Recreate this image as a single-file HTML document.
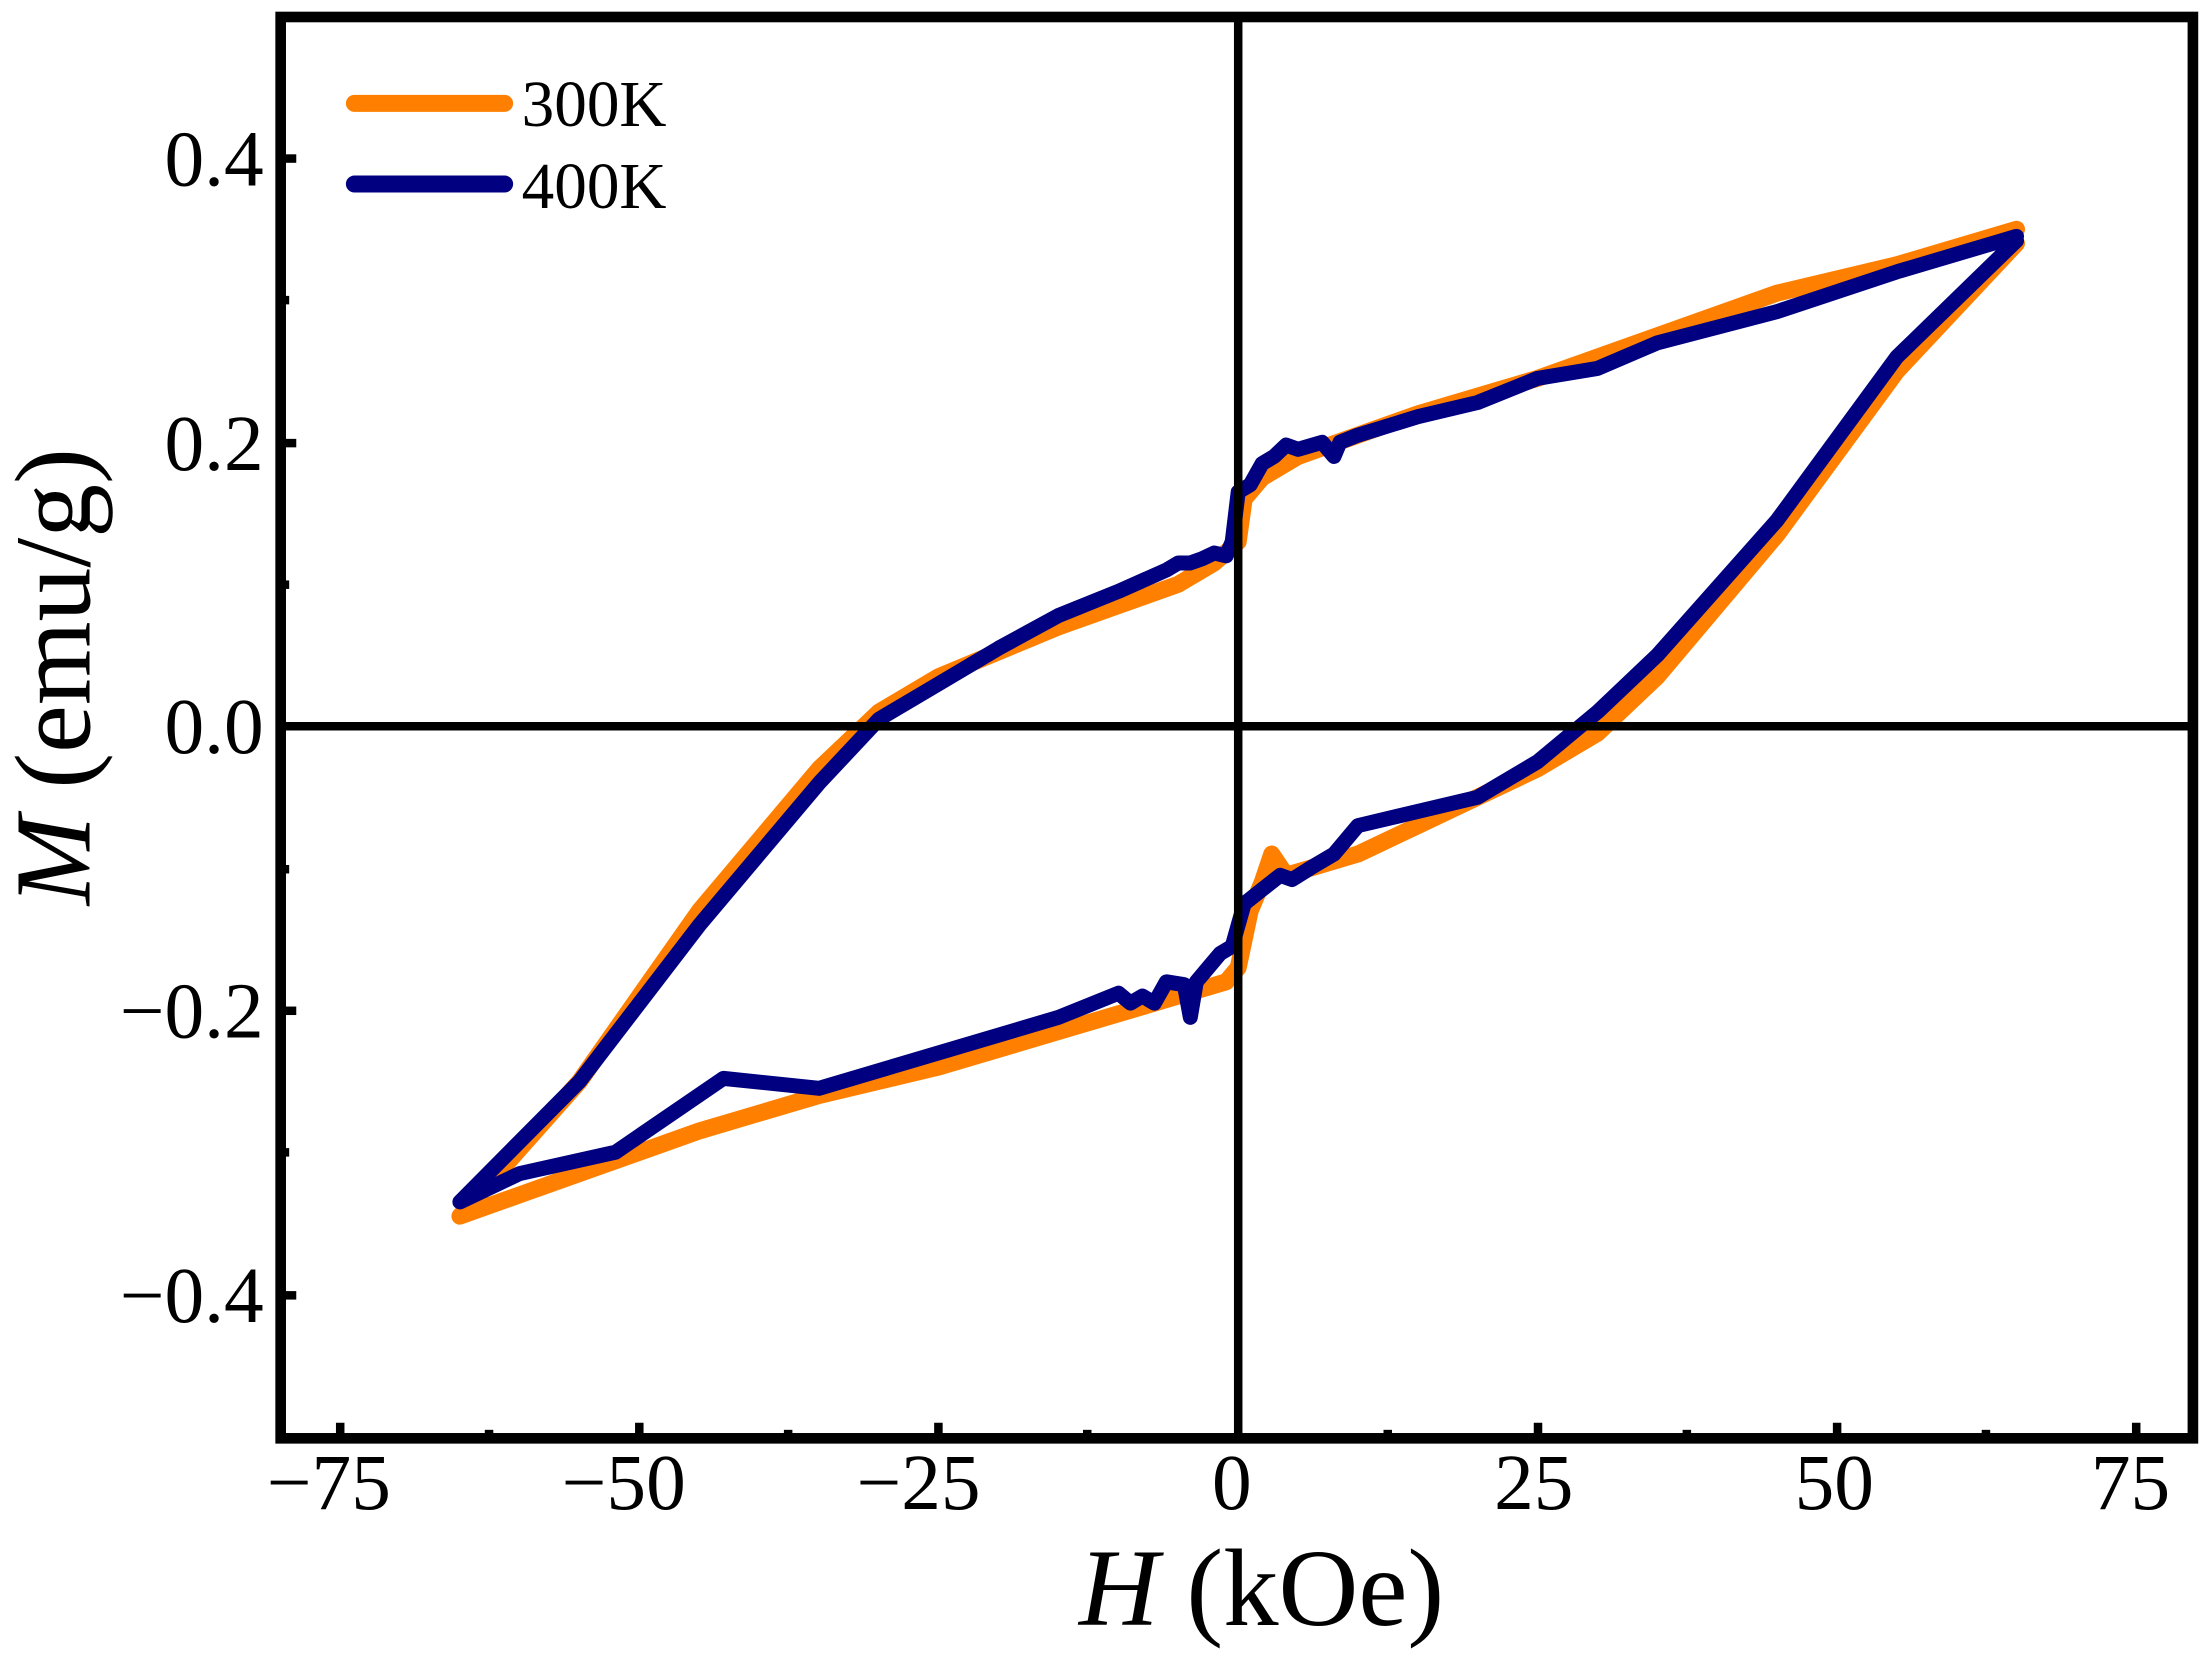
<!DOCTYPE html>
<html><head><meta charset="utf-8"><style>html,body{margin:0;padding:0;background:#fff}svg{display:block}</style></head>
<body>
<svg width="2200" height="1662" viewBox="0 0 1552 1174" preserveAspectRatio="none" xmlns="http://www.w3.org/2000/svg" font-family="Liberation Serif, serif">
<rect width="1552" height="1174" fill="#fff"/>
<g transform="translate(873.5,513) scale(8.447,-1003)" fill="none" stroke-linejoin="round" stroke-linecap="round">
<polyline vector-effect="non-scaling-stroke" stroke="#ff8000" stroke-width="17" points="65,0.35 55,0.325 45,0.305 35,0.275 25,0.245 15,0.22 10,0.205 5,0.19 2,0.175 0.5,0.16 0,0.13 -2,0.115 -5,0.1 -15,0.07 -25,0.035 -30,0.01 -35,-0.03 -45,-0.13 -55,-0.25 -65,-0.345 -55,-0.315 -45,-0.285 -35,-0.26 -25,-0.24 -15,-0.215 -5,-0.19 -1,-0.18 0,-0.17 1,-0.13 2,-0.11 2.8,-0.09 4,-0.105 6,-0.1 8,-0.095 10,-0.09 15,-0.07 20,-0.05 25,-0.03 30,-0.005 35,0.035 45,0.135 55,0.25 65,0.34"/>
<polyline vector-effect="non-scaling-stroke" stroke="#000080" stroke-width="15" points="65,0.345 55,0.32 45,0.292 35,0.27 30,0.252 25,0.245 20,0.228 15,0.218 10,0.205 8.5,0.2 8,0.19 7,0.2 5,0.195 4,0.198 3,0.19 2,0.185 1,0.17 0,0.165 -0.5,0.13 -1,0.12 -2,0.122 -3,0.118 -4,0.115 -5,0.115 -6,0.11 -10,0.095 -15,0.078 -20,0.055 -25,0.03 -30,0.005 -35,-0.04 -45,-0.14 -55,-0.25 -65,-0.335 -60,-0.315 -52,-0.3 -43,-0.248 -35,-0.255 -25,-0.23 -15,-0.205 -10,-0.188 -9,-0.195 -8,-0.19 -7,-0.195 -6,-0.18 -4.5,-0.182 -4,-0.205 -3.5,-0.18 -2.5,-0.17 -1.5,-0.16 -0.5,-0.155 0,-0.14 0.5,-0.125 2,-0.115 3.5,-0.105 4.5,-0.108 6,-0.1 8,-0.09 10,-0.07 15,-0.06 20,-0.05 25,-0.025 30,0.01 35,0.05 45,0.145 55,0.26 65,0.342"/>
</g>
<g stroke="#000" stroke-width="6">
<line x1="873.5" y1="12" x2="873.5" y2="1016"/>
<line x1="198" y1="513" x2="1547" y2="513"/>
</g>
<rect x="198" y="12" width="1349" height="1004" fill="none" stroke="#000" stroke-width="7.5"/>
<g stroke="#000" stroke-width="6">
<line x1="240" y1="1016" x2="240" y2="1005"/><line x1="451" y1="1016" x2="451" y2="1005"/><line x1="662" y1="1016" x2="662" y2="1005"/><line x1="1085" y1="1016" x2="1085" y2="1005"/><line x1="1296" y1="1016" x2="1296" y2="1005"/><line x1="1507" y1="1016" x2="1507" y2="1005"/>
<line x1="345" y1="1016" x2="345" y2="1010"/><line x1="556" y1="1016" x2="556" y2="1010"/><line x1="767" y1="1016" x2="767" y2="1010"/><line x1="979" y1="1016" x2="979" y2="1010"/><line x1="1190" y1="1016" x2="1190" y2="1010"/><line x1="1401" y1="1016" x2="1401" y2="1010"/>
<line x1="198" y1="112" x2="209" y2="112"/><line x1="198" y1="313" x2="209" y2="313"/><line x1="198" y1="714" x2="209" y2="714"/><line x1="198" y1="915" x2="209" y2="915"/>
<line x1="198" y1="212" x2="204" y2="212"/><line x1="198" y1="413" x2="204" y2="413"/><line x1="198" y1="614" x2="204" y2="614"/><line x1="198" y1="814" x2="204" y2="814"/>
</g>
<g font-size="56" fill="#000" text-anchor="middle">
<text x="232" y="1066">−75</text><text x="440" y="1066">−50</text><text x="648" y="1066">−25</text><text x="869" y="1066">0</text><text x="1082" y="1066">25</text><text x="1294" y="1066">50</text><text x="1503" y="1066">75</text>
</g>
<g font-size="56" fill="#000" text-anchor="end">
<text x="186" y="131">0.4</text><text x="186" y="332">0.2</text><text x="186" y="532">0.0</text><text x="186" y="733">−0.2</text><text x="186" y="934">−0.4</text>
</g>
<text x="890" y="1148" font-size="78" text-anchor="middle"><tspan font-style="italic">H</tspan> (kOe)</text>
<text transform="translate(63,478) rotate(-90)" font-size="76" text-anchor="middle"><tspan font-style="italic">M</tspan> (emu/g)</text>
<g stroke-linecap="round" stroke-width="12">
<line x1="250" y1="73" x2="356" y2="73" stroke="#ff8000"/>
<line x1="250" y1="130" x2="356" y2="130" stroke="#000080"/>
</g>
<g font-size="46" fill="#000">
<text x="368" y="89">300K</text><text x="368" y="147">400K</text>
</g>
</svg>
</body></html>
